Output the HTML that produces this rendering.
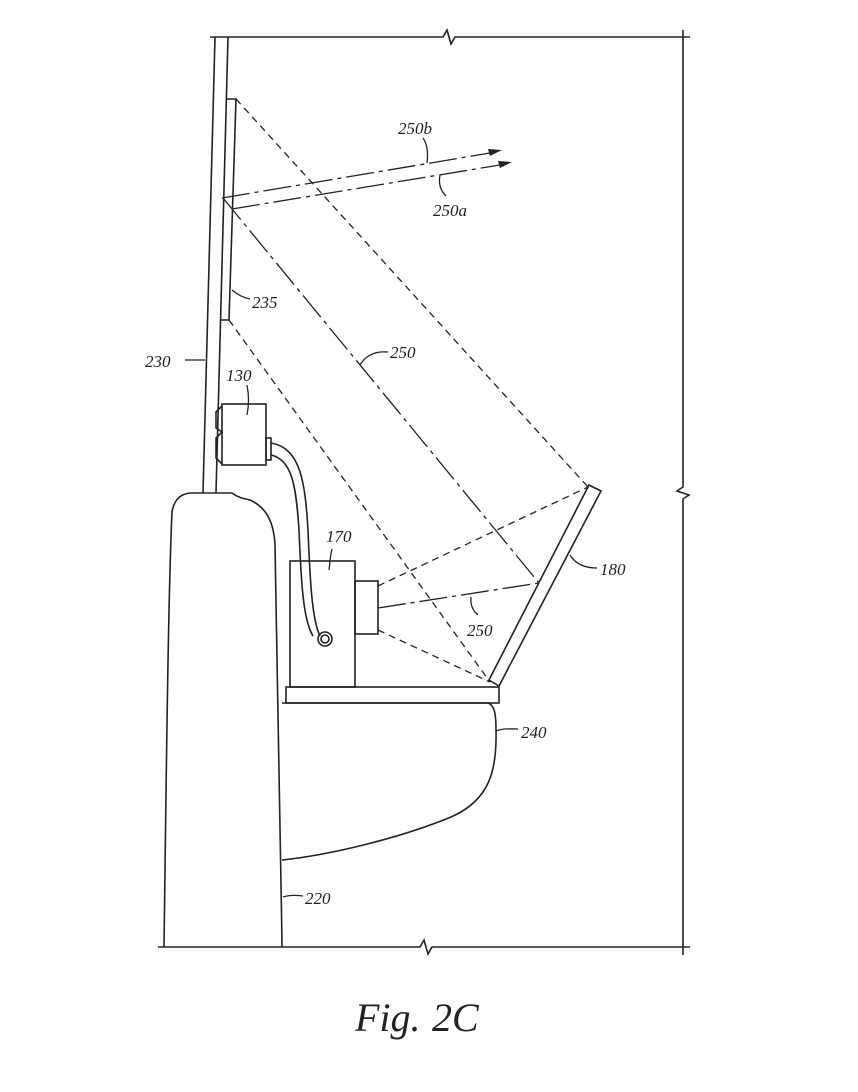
<!DOCTYPE html>
<html><head><style>
html,body{margin:0;padding:0;background:#fff;}
svg{display:block;}
text{font-family:"Liberation Serif",serif;font-style:italic;fill:#222;}
</style></head><body>
<svg width="858" height="1092" viewBox="0 0 858 1092" xmlns="http://www.w3.org/2000/svg">
<g fill="none" stroke="#222" stroke-width="1.6">
<path d="M210 37 H443 L447 30 L451 44 L455 37 H690"/>
<path d="M683 30 V487 L677 491 L689 495 L683 499 V955"/>
<path d="M158 947 H420 L424 940 L428 954 L432 947 H690"/>
<path d="M215 37 L203 493"/>
<path d="M228 37 L216 493"/>
<path d="M227 99 H236 L229 320 H221"/>
<rect x="222" y="404" width="44" height="61"/>
<path d="M222 406 L216 412 L216 428 L222 432 L216 438 L216 458 L222 464"/>
<rect x="266" y="438" width="5" height="22"/>
<path d="M271 443 C300 448 305 480 308 530 C310 580 312 620 320 636"/>
<path d="M271 455 C292 460 296 485 299 530 C301 580 303 620 313 636"/>
<circle cx="325" cy="639" r="7"/>
<circle cx="325" cy="639" r="4"/>
<path d="M164 947 C166 800 168 600 172 512 C174 500 180 494 190 493 H232 C236 496 240 498 250 500 C268 508 274 525 275 545 C277 650 280 800 282 947"/>
<rect x="290" y="561" width="65" height="126"/>
<rect x="355" y="581" width="23" height="53"/>
<rect x="286" y="687" width="213" height="16"/>
<path d="M282 703 H488 C494 705 496 712 496 730 C497 770 490 800 451 817 C400 838 330 855 282 860"/>
<path d="M589 485 L601 491 L499 686 L489 680 Z"/>
</g>
<g fill="none" stroke="#222" stroke-width="1.3" stroke-dasharray="7 5">
<path d="M236 99 L588 487"/>
<path d="M229 320 L490 682"/>
<path d="M378 586 L588 487"/>
<path d="M378 630 L490 682"/>
</g>
<g fill="none" stroke="#222" stroke-width="1.3" stroke-dasharray="28 5 4 5">
<path d="M223 198 L539 583"/>
<path d="M378 608 L539 583"/>
<path d="M222 198 L496 152"/>
<path d="M232 209 L506 164"/>
</g>
<g fill="#222" stroke="none">
<path d="M502 150 L488 149 L490 156 Z"/>
<path d="M512 162 L498 161 L500 168 Z"/>
</g>
<g fill="none" stroke="#222" stroke-width="1.3">
<path d="M423 138 C428 145 428 155 427 163"/>
<path d="M440 175 C438 185 442 192 446 196"/>
<path d="M232 290 C238 295 244 298 250 299"/>
<path d="M360 365 C366 355 376 351 388 352"/>
<path d="M185 360 H205"/>
<path d="M247 385 C249 395 249 405 247 415"/>
<path d="M332 549 C330 557 330 563 329 570"/>
<path d="M570 555 C576 565 586 568 597 568"/>
<path d="M471 597 C470 606 474 612 478 615"/>
<path d="M496 731 C503 728 510 729 518 729"/>
<path d="M283 897 C289 895 296 895 303 896"/>
</g>
<g font-size="17">
<text x="398" y="134">250b</text>
<text x="433" y="216">250a</text>
<text x="252" y="308">235</text>
<text x="390" y="358">250</text>
<text x="145" y="367">230</text>
<text x="226" y="381">130</text>
<text x="326" y="542">170</text>
<text x="600" y="575">180</text>
<text x="467" y="636">250</text>
<text x="521" y="738">240</text>
<text x="305" y="904">220</text>
</g>
<text x="355" y="1031" font-size="40">Fig.</text>
<text x="432" y="1031" font-size="40">2C</text>
</svg>
</body></html>
